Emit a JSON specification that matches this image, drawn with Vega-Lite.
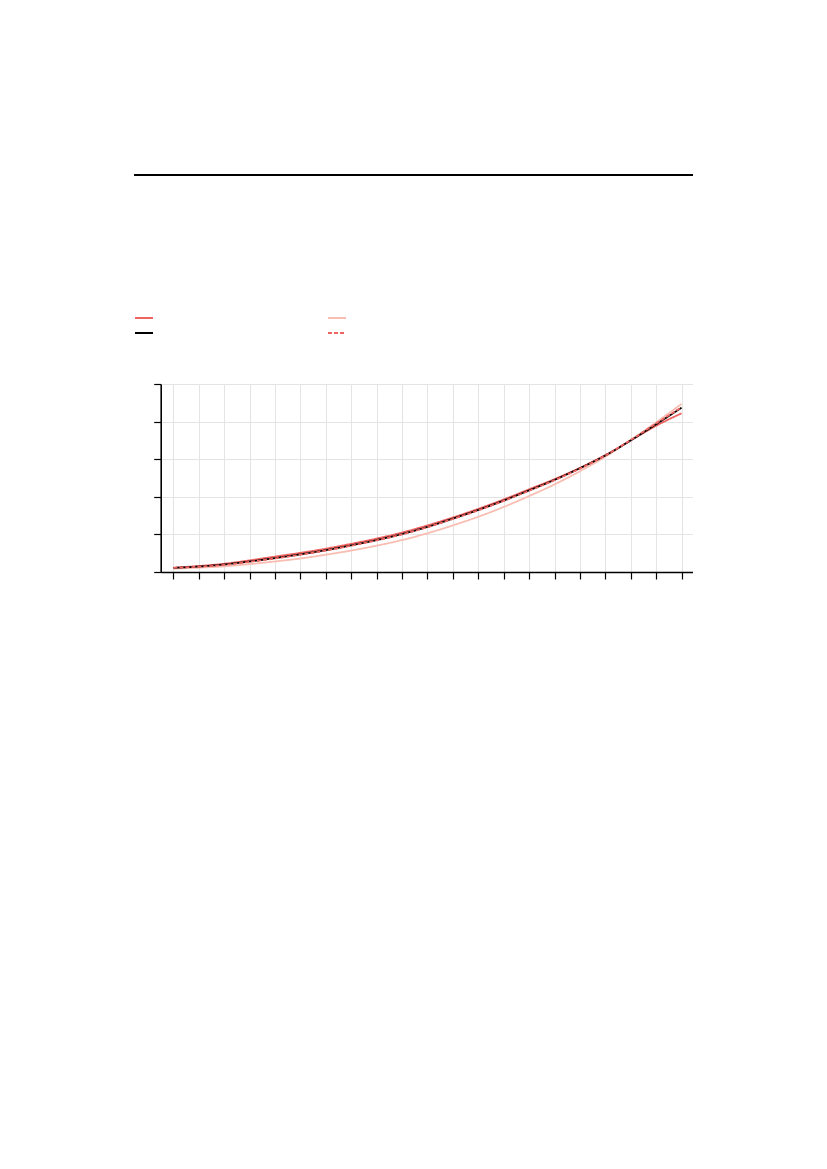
{
  "$schema": "https://vega.github.io/schema/vega-lite/v6.json",
  "padding": {"left": 134, "top": 172, "right": 0, "bottom": 0},
  "background": "white",
  "config": {
    "view": {"stroke": null},
    "axis": {
      "labels": false,
      "title": null,
      "domainColor": "black",
      "domainWidth": 1.6,
      "tickColor": "black",
      "tickWidth": 1.2,
      "tickSize": 7,
      "gridColor": "#e4e4e4",
      "gridWidth": 1
    },
    "legend": {
      "orient": "none",
      "legendX": 0,
      "legendY": -76,
      "columns": 2,
      "columnPadding": 166,
      "rowPadding": -2,
      "padding": 0,
      "symbolType": "stroke",
      "symbolSize": 324,
      "symbolStrokeWidth": 2,
      "title": null
    }
  },
  "datasets": {
    "curves": [
      {"x": 0, "series": "Series 1", "v": 0.114}, {"x": 1, "series": "Series 1", "v": 0.16}, {"x": 2, "series": "Series 1", "v": 0.22},
      {"x": 3, "series": "Series 1", "v": 0.31}, {"x": 4, "series": "Series 1", "v": 0.41}, {"x": 5, "series": "Series 1", "v": 0.51},
      {"x": 6, "series": "Series 1", "v": 0.62}, {"x": 7, "series": "Series 1", "v": 0.75}, {"x": 8, "series": "Series 1", "v": 0.89},
      {"x": 9, "series": "Series 1", "v": 1.05}, {"x": 10, "series": "Series 1", "v": 1.24}, {"x": 11, "series": "Series 1", "v": 1.45},
      {"x": 12, "series": "Series 1", "v": 1.68}, {"x": 13, "series": "Series 1", "v": 1.93}, {"x": 14, "series": "Series 1", "v": 2.2},
      {"x": 15, "series": "Series 1", "v": 2.47}, {"x": 16, "series": "Series 1", "v": 2.77}, {"x": 17, "series": "Series 1", "v": 3.11},
      {"x": 18, "series": "Series 1", "v": 3.5}, {"x": 19, "series": "Series 1", "v": 3.89}, {"x": 20, "series": "Series 1", "v": 4.22},

      {"x": 0, "series": "Series 2", "v": 0.09}, {"x": 1, "series": "Series 2", "v": 0.115}, {"x": 2, "series": "Series 2", "v": 0.15},
      {"x": 3, "series": "Series 2", "v": 0.21}, {"x": 4, "series": "Series 2", "v": 0.28}, {"x": 5, "series": "Series 2", "v": 0.36},
      {"x": 6, "series": "Series 2", "v": 0.46}, {"x": 7, "series": "Series 2", "v": 0.57}, {"x": 8, "series": "Series 2", "v": 0.7},
      {"x": 9, "series": "Series 2", "v": 0.85}, {"x": 10, "series": "Series 2", "v": 1.03}, {"x": 11, "series": "Series 2", "v": 1.24},
      {"x": 12, "series": "Series 2", "v": 1.47}, {"x": 13, "series": "Series 2", "v": 1.73}, {"x": 14, "series": "Series 2", "v": 2.02},
      {"x": 15, "series": "Series 2", "v": 2.33}, {"x": 16, "series": "Series 2", "v": 2.68}, {"x": 17, "series": "Series 2", "v": 3.07},
      {"x": 18, "series": "Series 2", "v": 3.51}, {"x": 19, "series": "Series 2", "v": 3.98}, {"x": 20, "series": "Series 2", "v": 4.47},

      {"x": 0, "series": "Series 3", "v": 0.11}, {"x": 1, "series": "Series 3", "v": 0.145}, {"x": 2, "series": "Series 3", "v": 0.2},
      {"x": 3, "series": "Series 3", "v": 0.28}, {"x": 4, "series": "Series 3", "v": 0.37}, {"x": 5, "series": "Series 3", "v": 0.47},
      {"x": 6, "series": "Series 3", "v": 0.58}, {"x": 7, "series": "Series 3", "v": 0.71}, {"x": 8, "series": "Series 3", "v": 0.85},
      {"x": 9, "series": "Series 3", "v": 1.01}, {"x": 10, "series": "Series 3", "v": 1.2}, {"x": 11, "series": "Series 3", "v": 1.42},
      {"x": 12, "series": "Series 3", "v": 1.65}, {"x": 13, "series": "Series 3", "v": 1.9}, {"x": 14, "series": "Series 3", "v": 2.17},
      {"x": 15, "series": "Series 3", "v": 2.45}, {"x": 16, "series": "Series 3", "v": 2.76}, {"x": 17, "series": "Series 3", "v": 3.1},
      {"x": 18, "series": "Series 3", "v": 3.5}, {"x": 19, "series": "Series 3", "v": 3.93}, {"x": 20, "series": "Series 3", "v": 4.37},

      {"x": 0, "series": "Series 4", "v": 0.11}, {"x": 1, "series": "Series 4", "v": 0.14}, {"x": 2, "series": "Series 4", "v": 0.19},
      {"x": 3, "series": "Series 4", "v": 0.27}, {"x": 4, "series": "Series 4", "v": 0.36}, {"x": 5, "series": "Series 4", "v": 0.46},
      {"x": 6, "series": "Series 4", "v": 0.57}, {"x": 7, "series": "Series 4", "v": 0.7}, {"x": 8, "series": "Series 4", "v": 0.84},
      {"x": 9, "series": "Series 4", "v": 1.0}, {"x": 10, "series": "Series 4", "v": 1.19}, {"x": 11, "series": "Series 4", "v": 1.41},
      {"x": 12, "series": "Series 4", "v": 1.64}, {"x": 13, "series": "Series 4", "v": 1.89}, {"x": 14, "series": "Series 4", "v": 2.16},
      {"x": 15, "series": "Series 4", "v": 2.44}, {"x": 16, "series": "Series 4", "v": 2.75}, {"x": 17, "series": "Series 4", "v": 3.1},
      {"x": 18, "series": "Series 4", "v": 3.51}, {"x": 19, "series": "Series 4", "v": 3.95}, {"x": 20, "series": "Series 4", "v": 4.38}
    ]
  },
  "columns": 1,
  "align": "none",
  "spacing": 130,
  "resolve": {"legend": {"color": "independent", "strokeDash": "independent"}},
  "concat": [
    {
      "width": 559,
      "height": 2,
      "view": {"fill": "black", "stroke": null},
      "data": {"values": [{}]},
      "mark": {"type": "point", "opacity": 0}
    },
    {
      "width": 559,
      "height": 188,
      "data": {"name": "curves"},
      "mark": {"type": "line", "strokeWidth": 1.8, "interpolate": "monotone"},
      "encoding": {
        "x": {
          "field": "x",
          "type": "quantitative",
          "scale": {"domain": [-0.5, 20.45], "range": [26.7, 559], "nice": false, "zero": false},
          "axis": {"values": [0, 1, 2, 3, 4, 5, 6, 7, 8, 9, 10, 11, 12, 13, 14, 15, 16, 17, 18, 19, 20]}
        },
        "y": {
          "field": "v",
          "type": "quantitative",
          "scale": {"domain": [0, 5], "nice": false},
          "axis": {"values": [0, 1, 2, 3, 4, 5], "offset": -26.7}
        },
        "color": {
          "field": "series",
          "type": "nominal",
          "scale": {
            "domain": ["Series 1", "Series 3", "Series 2", "Series 4"],
            "range": ["#ef6461", "#000000", "#f9bdb2", "#ef6461"]
          },
          "legend": {"labelExpr": "''"}
        },
        "strokeDash": {
          "field": "series",
          "type": "nominal",
          "scale": {
            "domain": ["Series 1", "Series 3", "Series 2", "Series 4"],
            "range": [[1, 0], [1, 0], [1, 0], [4, 2]]
          },
          "legend": {"labelExpr": "''"}
        }
      }
    }
  ]
}
